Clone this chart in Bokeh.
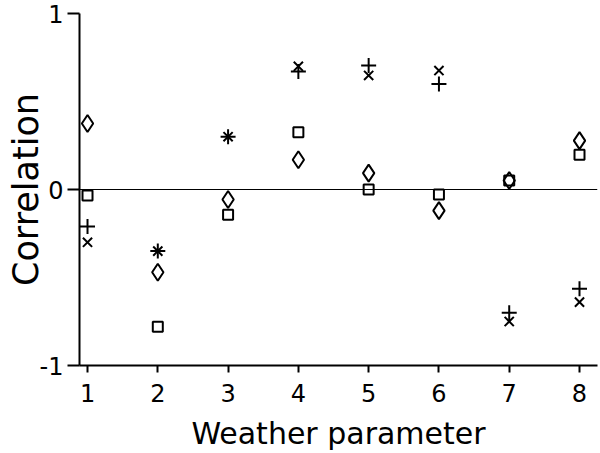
from bokeh.plotting import figure
from bokeh.models import Range1d, FixedTicker, Span
from bokeh.embed import file_html
from bokeh.resources import INLINE

# Data
params = [1, 2, 3, 4, 5, 6, 7, 8]
diamond_vals = [0.375, -0.47, -0.057, 0.169, 0.093, -0.12, 0.051, 0.278]
square_vals = [-0.034, -0.78, -0.144, 0.325, 0.0, -0.028, 0.051, 0.197]
plus_vals = [-0.21, -0.35, 0.30, 0.67, 0.705, 0.60, -0.70, -0.564]
cross_vals = [-0.30, -0.35, 0.30, 0.70, 0.648, 0.676, -0.75, -0.64]
y_ticks = [-1, 0, 1]
y_tick_labels = {-1: "-1", 0: "0", 1: "1"}
x_title = "Weather parameter"
y_title = "Correlation"

FONT = "DejaVu Sans"
X0, X1 = 0.886, 8.256

p = figure(width=600, height=453, output_backend="svg", toolbar_location=None,
           x_range=Range1d(X0, X1), y_range=Range1d(-1, 1),
           min_border_left=79, min_border_top=13, min_border_bottom=88, min_border_right=3)
p.outline_line_color = None
p.grid.visible = False
p.background_fill_color = "white"
p.border_fill_color = "white"

p.add_layout(Span(location=0, dimension="width", line_color="black", line_width=1.2))

p.scatter(params, diamond_vals, marker="diamond", size=17, line_color="black",
          fill_color=None, line_width=2)
p.scatter(params, square_vals, marker="square", size=10, line_color="black",
          fill_color=None, line_width=2)
p.scatter(params, plus_vals, marker="cross", size=15, line_color="black",
          line_width=2)
p.scatter(params, cross_vals, marker="x", size=13, line_color="black",
          line_width=2)

for ax in (p.xaxis[0], p.yaxis[0]):
    ax.axis_line_width = 2
    ax.axis_line_color = "black"
    ax.major_tick_line_width = 2
    ax.major_tick_line_color = "black"
    ax.minor_tick_line_color = None
    ax.major_tick_in = 0
    ax.major_label_text_font = FONT
    ax.major_label_text_font_size = "24px"
    ax.major_label_text_color = "black"
    ax.axis_label_text_font = FONT
    ax.axis_label_text_font_style = "normal"
    ax.axis_label_text_color = "black"

p.xaxis.ticker = FixedTicker(ticks=params)
p.xaxis.major_tick_out = 7
p.xaxis.major_label_standoff = 11
p.xaxis.axis_label = x_title
p.xaxis.axis_label_text_font_size = "30px"
p.xaxis.axis_label_standoff = 11

p.yaxis.ticker = FixedTicker(ticks=y_ticks)
p.yaxis.major_label_overrides = y_tick_labels
p.yaxis.major_tick_out = 12
p.yaxis.major_label_standoff = 4
p.yaxis.axis_label = y_title
p.yaxis.axis_label_text_font_size = "35px"
p.yaxis.axis_label_standoff = -9

open("out.html", "w").write(file_html(p, INLINE))
